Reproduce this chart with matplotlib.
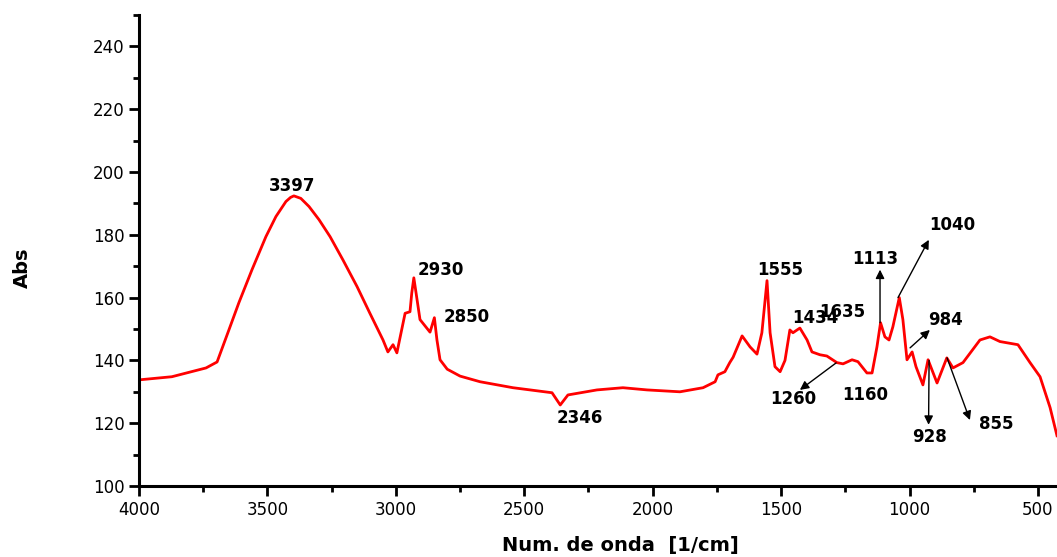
import numpy as np
import matplotlib
matplotlib.use("Agg")
import matplotlib.pyplot as plt
from matplotlib.ticker import MultipleLocator

# FTIR spectrum (wavenumber in 1/cm, absorbance)
wavenumber = [4000, 3872, 3739, 3696, 3650, 3611, 3560, 3506, 3467, 3428,
              3410, 3397, 3370, 3338, 3299, 3256, 3206, 3151, 3101, 3050,
              3031, 3011, 2996, 2964, 2945, 2938, 2930, 2906, 2867, 2850,
              2840, 2828, 2800, 2750, 2672, 2544, 2392, 2360, 2345, 2330,
              2217, 2116, 2022, 1894, 1804, 1757, 1746, 1719, 1700, 1687,
              1652, 1621, 1594, 1575, 1555, 1543, 1524, 1504, 1485, 1466,
              1454, 1438, 1427, 1399, 1380, 1349, 1322, 1283, 1259, 1224,
              1201, 1166, 1146, 1127, 1113, 1096, 1080, 1065, 1040, 1026,
              1010, 990, 975, 948, 928, 893, 855, 831, 792, 726,
              687, 648, 578, 531, 492, 453, 426]
absorbance = [133.8, 134.8, 137.6, 139.5, 149.7, 158.4, 168.9, 179.4, 185.8, 190.6,
              191.9, 192.4, 191.6, 189.0, 184.8, 179.4, 172.0, 163.5, 155.0, 146.5,
              142.7, 145.0, 142.4, 155.0, 155.5, 161.5, 166.3, 153.0, 149.0, 153.6,
              146.5, 140.2, 137.2, 135.0, 133.2, 131.3, 129.7, 125.8, 127.4, 129.0,
              130.6, 131.3, 130.6, 130.0, 131.3, 133.2, 135.4, 136.4, 139.3, 141.0,
              147.8, 144.3, 142.0, 148.8, 165.4, 148.8, 138.0, 136.4, 140.0, 149.7,
              148.8, 149.7, 150.3, 146.5, 142.7, 141.8, 141.4, 139.3, 138.9, 140.2,
              139.6, 136.0, 136.0, 144.3, 152.0, 147.5, 146.5, 150.7, 160.0, 153.0,
              140.2, 142.7, 138.0, 132.2, 140.2, 132.8, 140.8, 137.6, 139.3, 146.5,
              147.5, 146.0, 145.0, 139.3, 134.8, 125.0, 116.0]

# peak labels placed directly
plain_labels = ["3397", "2930", "2850", "2346", "1555", "1434", "1635", "1160"]
plain_x = [3404, 2824, 2723, 2283, 1504, 1368, 1263, 1174]
plain_y = [195.7, 168.9, 153.9, 121.7, 168.9, 153.6, 155.5, 129.0]

# peak labels with arrows: text position, arrow tail, arrow head
arrow_labels = ["1113", "1040", "984", "1260", "928", "855"]
arrow_text_x = [1135, 835, 862, 1454, 924, 664]
arrow_text_y = [172.4, 183.2, 152.9, 127.7, 115.6, 119.8]
arrow_tail_x = [1115, 1045, 998, 1286, 924, 854]
arrow_tail_y = [152.0, 160.0, 144.0, 139.2, 140.0, 140.8]
arrow_head_x = [1115, 925, 921, 1427, 926, 765]
arrow_head_y = [168.9, 178.4, 149.7, 130.6, 119.5, 121.0]

fig = plt.figure(figsize=(10.57, 5.57), dpi=100)
ax = fig.add_axes([139 / 1057, 71 / 557, 1 - 139 / 1057, (486 - 15) / 557])

ax.plot(wavenumber, absorbance, color="red", lw=2.0)

ax.set_xlim(4000, 426)
ax.set_ylim(100, 250)
ax.xaxis.set_major_locator(MultipleLocator(500))
ax.xaxis.set_minor_locator(MultipleLocator(250))
ax.yaxis.set_major_locator(MultipleLocator(20))
ax.yaxis.set_minor_locator(MultipleLocator(10))
ax.set_yticks(np.arange(100, 241, 20))

for side in ["top", "right"]:
    ax.spines[side].set_visible(False)
for side in ["left", "bottom"]:
    ax.spines[side].set_linewidth(2.2)

ax.tick_params(which="major", direction="out", length=7, width=2, labelsize=12)
ax.tick_params(which="minor", direction="out", length=4, width=2)

for lab, x, y in zip(plain_labels, plain_x, plain_y):
    ax.text(x, y, lab, ha="center", va="center", fontsize=12, fontweight="bold")

for lab, tx, ty, x0, y0, x1, y1 in zip(arrow_labels, arrow_text_x, arrow_text_y,
                                       arrow_tail_x, arrow_tail_y,
                                       arrow_head_x, arrow_head_y):
    ax.text(tx, ty, lab, ha="center", va="center", fontsize=12, fontweight="bold")
    ax.annotate("", xy=(x1, y1), xytext=(x0, y0),
                arrowprops=dict(arrowstyle="-|>", color="black", lw=1,
                                mutation_scale=13, shrinkA=0, shrinkB=0))

fig.text(620 / 1057, 1 - 545 / 557, "Num. de onda  [1/cm]", ha="center", va="center",
         fontsize=14, fontweight="bold")
fig.text(22 / 1057, 1 - 268 / 557, "Abs", ha="center", va="center", rotation=90,
         fontsize=14, fontweight="bold")

fig.savefig("out.png", dpi=100)
